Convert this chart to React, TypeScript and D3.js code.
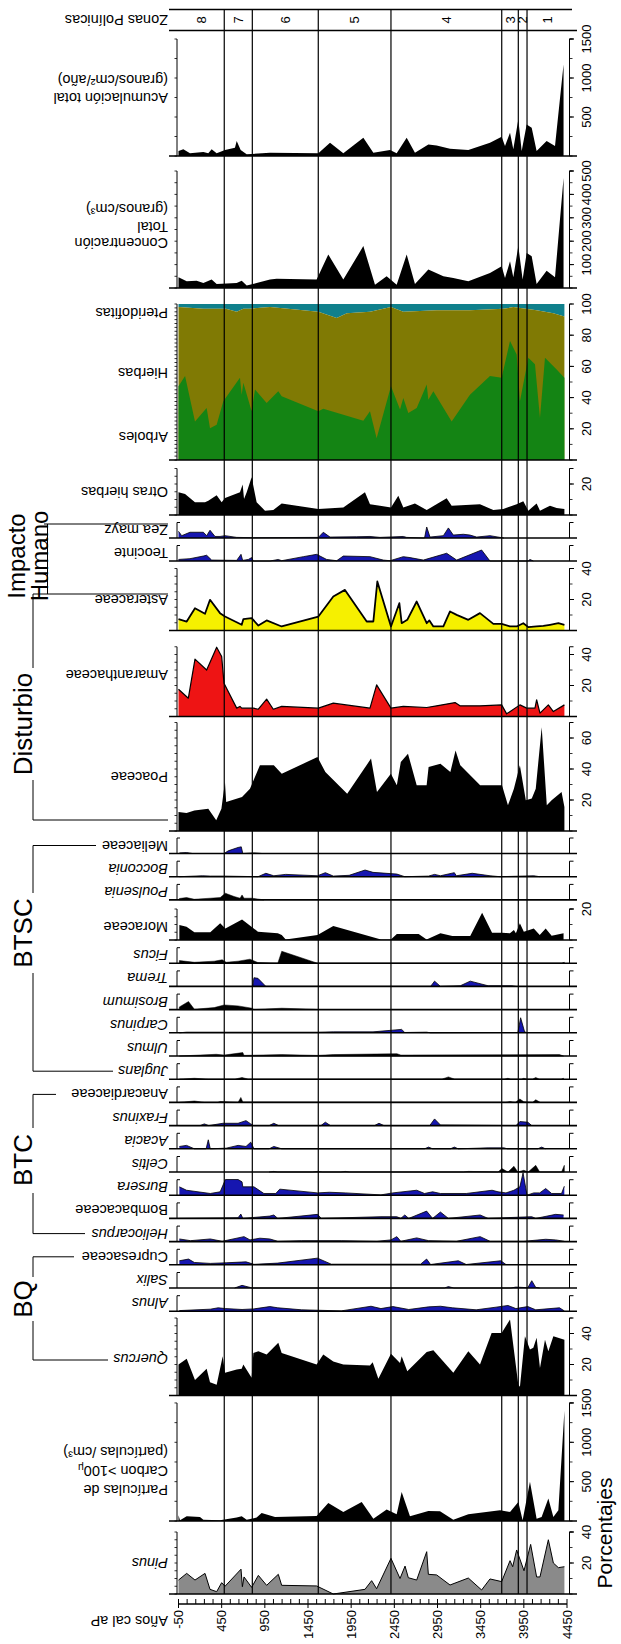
import React from 'react';
import * as d3 from 'd3';

type Pt = [number, number];

// ------------------------------------------------------------------ data
const AGE_TICKS = [-50, 450, 950, 1450, 1950, 2450, 2950, 3450, 3950, 4450];
const ZONE_BOUNDARIES = [480, 805, 1569, 2411, 3694, 3886, 3987];
const ZONE_NAMES = ['8', '7', '6', '5', '4', '3', '2', '1'];

const ACUM_TICKS = [500, 1000, 1500];
const CONC_TICKS = [100, 200, 300, 400, 500];
const VEG_TICKS = [20, 40, 60, 80, 100];
const TICKS_20 = [20];
const TICKS_20_40 = [20, 40];
const TICKS_20_40_60 = [20, 40, 60];
const CARBON_TICKS = [500, 1000, 1500];

const ACUMULACION: Pt[] = [[-50,64],[6,85],[83,34],[238,51],[295,34],[334,85],[392,34],[489,77],[604,107],[624,192],[670,77],[740,21],[1010,43],[1570,34],[1705,170],[1859,34],[2091,234],[2207,43],[2400,77],[2477,34],[2593,234],[2689,43],[2844,149],[2940,136],[3095,94],[3307,77],[3558,170],[3693,247],[3732,128],[3790,298],[3828,85],[3886,469],[3925,64],[3983,405],[4041,362],[4098,64],[4214,192],[4311,128],[4410,1172]];
const CONCENTRACION: Pt[] = [[-50,46],[45,29],[160,31],[238,21],[334,36],[392,17],[624,21],[682,31],[740,11],[855,21],[1010,36],[1087,40],[1550,36],[1685,143],[1859,36],[2091,179],[2226,14],[2361,50],[2477,14],[2593,143],[2689,17],[2844,79],[3018,50],[3133,43],[3307,29],[3558,64],[3693,93],[3732,43],[3790,114],[3828,46],[3886,179],[3936,36],[3983,150],[4041,136],[4098,17],[4214,74],[4311,46],[4410,470]];
const ARBOLES: Pt[] = [[-50,47.3],[26,53.8],[141,24.7],[276,33.3],[315,20.4],[392,22.6],[469,37.6],[662,52.7],[682,41.9],[701,49.5],[797,31.2],[836,45.2],[971,36.6],[1106,44.1],[1145,40.9],[1570,31.2],[1627,32.9],[2091,25.2],[2168,31.2],[2245,14],[2411,47.3],[2516,32.3],[2554,39.8],[2612,30.1],[2709,33.3],[2825,48.4],[2844,38.7],[2902,44.1],[3114,24.7],[3326,41.9],[3558,53.8],[3693,52.7],[3790,76.3],[3867,67.7],[3905,37.6],[4002,65.6],[4079,61.3],[4137,26.9],[4195,65.6],[4330,58],[4420,52.7]];
const PTERIDOFITAS: Pt[] = [[-50,2],[238,3],[500,3],[624,5],[700,3],[778,3],[1010,2],[1570,5],[1782,9],[1900,6],[2168,5],[2411,2],[2554,5],[2940,4],[3326,4],[3712,3],[3828,2],[4098,4],[4292,6],[4420,8]];
const OTRAS_HIERBAS: Pt[] = [[-50,14.6],[26,13.5],[141,8.2],[257,8.2],[295,9.2],[392,12.7],[450,8.2],[489,11],[662,14.6],[693,19.6],[709,10.3],[740,14.6],[797,24.3],[855,8.2],[952,2.8],[1048,3.2],[1145,7.5],[1570,3.9],[1859,4.9],[2110,14.6],[2168,7],[2284,6],[2411,4.9],[2496,12.5],[2554,4.9],[2689,7.5],[2825,3.2],[3056,10.8],[3114,6],[3442,7],[3597,3.2],[3712,3.9],[3867,7],[3944,8.8],[4002,2.8],[4098,7.5],[4137,2.8],[4253,6],[4330,4.5],[4420,3.9]];
const ZEA_MAYZ: Pt[] = [[-50,4.3],[-13,1.5],[83,3.7],[238,3.7],[276,1.5],[315,5],[373,1],[431,1],[489,1.5],[624,0.4],[817,0.2],[1570,0.4],[1627,3.7],[1705,0.6],[2014,0.8],[2168,1],[2284,0.4],[2554,1],[2593,0.4],[2800,0],[2825,7.1],[2863,0.6],[3018,1.5],[3076,6.5],[3133,1.9],[3249,2.4],[3326,1.9],[3404,0.6],[3558,1.5],[3674,0.4],[3720,0]];
const TEOCINTE: Pt[] = [[-50,1],[83,1.5],[238,3.2],[276,3.7],[334,0.6],[624,0.4],[674,4.3],[693,0.4],[759,1],[797,2.2],[817,0],[1010,0],[1106,1],[1145,0.2],[1396,2.8],[1550,4.3],[1666,1],[1782,0.2],[1859,3.2],[2168,2.8],[2322,0.6],[2400,0.2],[2554,2.8],[2631,2.2],[2786,0.6],[3056,5],[3172,0.6],[3461,7.1],[3558,0],[4000,0],[4021,1],[4060,0]];
const ASTERACEAE: Pt[] = [[-50,7.3],[45,5.8],[141,14.4],[257,10.8],[315,19.8],[431,11.2],[489,9],[682,3.7],[701,7.3],[797,8],[875,3.2],[971,6.5],[1145,2.6],[1570,9],[1743,21.9],[1878,26.2],[2130,5.8],[2207,5.8],[2253,31.6],[2411,2.6],[2508,17.6],[2535,4.7],[2600,6.9],[2709,18.7],[2825,4.7],[2856,6.5],[2902,2.6],[3018,2.6],[3095,12.3],[3172,10.1],[3307,6.9],[3442,11.2],[3597,4.3],[3693,4.3],[3790,2.6],[3867,2.6],[3944,4.7],[4002,2.2],[4098,2.6],[4176,3],[4253,3.7],[4350,4.7],[4420,3.7]];
const AMARANTHACEAE: Pt[] = [[-50,17.6],[64,11.8],[141,37],[276,30],[392,44.7],[450,38.7],[477,21.5],[624,5.4],[662,6.5],[682,5.4],[817,5.4],[875,4.7],[971,11.2],[1048,4.7],[1145,6.5],[1570,5.4],[1743,8.6],[2168,5.4],[2245,20.4],[2411,5.4],[2554,6.5],[2825,5.8],[2940,6.9],[3153,9],[3210,6.9],[3442,6.9],[3693,7.5],[3751,1.7],[3905,7.5],[3983,5.4],[4079,5.4],[4098,10.8],[4137,2.2],[4234,7.5],[4292,3.2],[4420,7.5]];
const POACEAE: Pt[] = [[-50,12.3],[43,11.6],[134,13.3],[295,14.4],[387,6.9],[447,14.4],[488,31.6],[502,18.7],[686,21.9],[778,27.3],[893,42.4],[1054,42.4],[1146,37],[1560,47.7],[1651,38],[1904,24.1],[2180,46.7],[2249,25.2],[2410,37],[2479,29.5],[2525,44.5],[2608,49.9],[2709,29.5],[2824,29.5],[2847,41.3],[2984,43.4],[3099,38],[3159,52],[3214,42.4],[3444,29.5],[3697,29.5],[3766,16.6],[3835,27.3],[3904,42.4],[3973,19.8],[4042,20.9],[4088,27.3],[4157,67],[4216,16.6],[4272,19.8],[4387,25.2],[4420,15.5]];
const MELIACEAE: Pt[] = [[-40,0.4],[43,0.6],[111,0],[479,0],[525,1.7],[640,3.9],[677,4.3],[695,0],[824,0.4],[916,0]];
const BOCCONIA: Pt[] = [[-40,0],[226,0.6],[318,0.4],[479,0.4],[870,0],[962,2.2],[1054,0.6],[1192,1.5],[1560,0.6],[1651,2.6],[1743,0.4],[1927,0.9],[2111,4.3],[2203,2.8],[2479,1.7],[2571,0],[2847,0.4],[2916,1.5],[2984,0.6],[3145,2.6],[3168,0.6],[3352,2.2],[3559,0.6],[3674,0],[4065,0.6],[4134,0]];
const POULSENIA: Pt[] = [[-40,0.9],[43,1.5],[134,0.4],[318,1.1],[433,1.5],[493,4.3],[594,2.2],[663,1.1],[686,3.2],[709,1.1],[801,1.1],[939,0]];
const MORACEAE: Pt[] = [[-40,9.7],[43,8.6],[134,5],[318,5],[433,10.8],[493,7.5],[686,13.3],[870,5.4],[1100,4.3],[1146,3.2],[1192,0.4],[1560,3.2],[1743,9],[2295,0.4],[2410,0.4],[2479,3.9],[2732,3.9],[2824,0.4],[2984,4.3],[3122,2.6],[3329,2.6],[3467,17.6],[3582,4.7],[3697,4.7],[3789,4.3],[3835,6.5],[3858,4.3],[3904,10.8],[3950,5.4],[4065,7.5],[4134,3.2],[4203,7.5],[4272,2.8],[4410,4.3]];
const FICUS: Pt[] = [[-40,1.7],[134,0.6],[364,1.3],[456,2.2],[502,0.6],[640,1.3],[778,2.6],[870,0.4],[1100,0],[1146,7.7],[1560,0],[4387,0],[4419,0.6]];
const TREMA: Pt[] = [[810,0],[824,5.6],[870,5.2],[962,0],[2870,0],[2916,3.4],[2984,0],[3214,0.4],[3329,3.4],[3536,0.4],[3812,0.4],[3858,0]];
const BROSIMUM: Pt[] = [[-40,1.7],[66,5.2],[134,0.2],[364,1.3],[479,3],[640,2.4],[801,0.9],[824,0],[1146,0.9],[1514,0.2],[1560,0]];
const CARPINUS: Pt[] = [[-40,0],[43,0.4],[824,0.4],[1560,0.4],[1743,0.6],[2203,0.6],[2534,2.2],[2571,0.2],[2824,0.4],[2870,0],[3881,0.2],[3913,9.7],[3959,0.6],[3996,0]];
const ULMUS: Pt[] = [[-40,0],[387,1.1],[479,0.6],[695,2.2],[709,0.4],[1146,0.9],[1560,0.4],[1743,0.9],[2479,1.5],[2525,0.6],[4363,0.9],[4410,0]];
const JUGLANS: Pt[] = [[-40,0],[134,0.6],[300,0],[600,0],[686,1.1],[760,0],[3000,0],[3076,1.5],[3150,0],[3720,0],[3766,0.6],[3800,0],[3920,0],[3950,0.6],[3990,0],[4050,0],[4088,1.1],[4130,0],[4380,0],[4410,0.6]];
const ANACARDIACEAE: Pt[] = [[-40,0],[134,0.9],[250,0],[400,0],[433,0.6],[640,0],[672,3.2],[695,0.2],[3740,0],[3789,0.6],[3850,0],[3904,2.2],[3950,0.4],[4050,0],[4088,1.7],[4134,0.2]];
const FRAXINUS: Pt[] = [[-40,0],[200,0],[249,1.1],[300,0],[465,1.5],[640,1.5],[732,3.2],[787,1.1],[820,0],[1000,0],[1054,1.5],[1110,0],[1600,0],[1651,2.2],[1710,0],[2220,0],[2272,1.5],[2330,0],[2860,0],[2916,4.3],[2984,0.4],[3860,0],[3904,2.6],[3996,2.2],[4042,0]];
const ACACIA: Pt[] = [[-40,1.5],[43,2.2],[134,0],[270,0],[295,5.8],[318,0],[502,0.4],[640,2.2],[732,1.5],[787,4.3],[824,0],[1000,0],[1054,1.5],[1146,0],[2800,0],[2847,1.1],[2893,0],[3100,0],[3145,1.1],[3190,0],[3536,0.6],[3720,0.6],[3760,0],[4110,0],[4157,1.1],[4200,0]];
const CELTIS: Pt[] = [[1000,0],[1054,0.4],[1100,0],[1500,0],[1560,0.4],[1620,0],[1830,0],[1881,0.4],[1930,0],[3250,0],[3306,0.4],[3650,0],[3697,2.2],[3766,0],[3835,3.7],[3881,0],[3950,1.1],[4000,0],[4088,4.3],[4134,0],[4387,0],[4419,4.3]];
const BURSERA: Pt[] = [[-40,5.4],[43,3.2],[318,1.1],[433,2.2],[493,10.1],[640,10.1],[686,8.6],[695,5.4],[824,5.4],[939,1.1],[1077,1.1],[1123,3.9],[1560,1.5],[1697,1.9],[1881,1.5],[2295,0.2],[2433,1.5],[2709,3.2],[2800,1.1],[2893,2.2],[2984,1.1],[3283,1.1],[3582,3.2],[3651,2.2],[3743,1.5],[3835,3.2],[3904,5.4],[3941,14.4],[3987,0],[4065,1.5],[4134,1.5],[4203,4.3],[4272,1.1],[4387,1.1],[4419,5.8]];
const BOMBACACEAE: Pt[] = [[-40,0],[640,0.4],[672,2.8],[695,0],[1008,1.5],[1054,2.2],[1100,0],[1560,2.6],[1605,0],[2295,1.1],[2479,1.1],[2525,0],[2571,2.2],[2617,0],[2824,4.7],[2893,0],[2984,4.1],[3076,0],[3444,2.2],[3536,0],[4042,1.1],[4088,0],[4318,2.6],[4410,2.2]];
const HELIOCARPUS: Pt[] = [[-40,1.7],[89,0.6],[318,1.7],[456,0.2],[709,3.2],[778,1.1],[893,2.2],[1008,1.7],[1100,0.2],[1376,0.6],[1835,0.6],[2249,0.2],[2410,1.1],[2479,3.2],[2525,0.2],[2709,2.4],[2847,0.6],[3168,0.2],[3444,3.2],[3559,0.2],[3950,0.2],[4203,1.5],[4318,1.1],[4419,0.2]];
const CUPRESACEAE: Pt[] = [[-40,2.6],[66,3.7],[134,1.5],[318,0.9],[502,1.3],[732,1.9],[824,0.3],[1100,1.1],[1560,4.3],[1720,0.4],[2754,0.4],[2824,3.7],[2870,0.2],[3191,2.6],[3283,0.2],[3683,2.6],[3743,0.2],[4419,0.2]];
const SALIX: Pt[] = [[600,0],[686,1.7],[778,0.4],[800,0],[3030,0],[3076,0.9],[3140,0],[3800,0],[3858,0.6],[3996,0.2],[4042,4.7],[4088,0.4],[4134,0]];
const ALNUS: Pt[] = [[-40,0.4],[318,1.3],[410,2.2],[493,1.7],[686,1.1],[824,1.5],[1008,3],[1100,2.2],[1376,0.9],[1835,0.2],[2180,3.2],[2295,1.7],[2433,3],[2617,1.1],[2847,2.8],[2984,3.2],[3122,2.2],[3398,0.9],[3628,2.6],[3766,3.7],[3858,1.7],[3996,3],[4088,0.9],[4363,2.2],[4419,0.2]];
const QUERCUS: Pt[] = [[-50,20],[45,23.7],[141,10],[276,17.2],[315,8.6],[392,7],[462,25.4],[489,14.6],[624,16.8],[682,17.2],[701,20],[797,11.4],[817,27.5],[875,28.6],[971,26.5],[1106,34],[1145,27.5],[1550,20],[1627,26.5],[1743,22],[1859,20],[2168,19.4],[2199,21.5],[2265,10.8],[2411,27],[2516,21],[2535,25.4],[2600,15.7],[2825,28],[2902,29.2],[3133,14.6],[3307,28.6],[3442,20],[3577,40.4],[3693,40.4],[3790,49],[3886,7],[3905,5.6],[3963,38.3],[4021,29.7],[4060,30.8],[4098,37.2],[4137,17.8],[4195,36],[4234,28.6],[4292,38.3],[4420,36]];
const CARBON: Pt[] = [[-50,72],[-33,8],[45,60],[199,51],[238,17],[431,8],[624,43],[682,60],[740,17],[855,43],[913,102],[1068,51],[1550,64],[1685,230],[1859,115],[2072,243],[2207,30],[2361,145],[2477,85],[2535,370],[2631,60],[2844,128],[2979,124],[3133,17],[3307,85],[3674,136],[3790,115],[3886,243],[3936,8],[4021,500],[4098,30],[4156,51],[4234,285],[4292,51],[4350,136],[4420,1400]];
const PINUS: Pt[] = [[-50,9],[45,13.3],[141,9],[257,13.3],[315,3],[392,1.5],[450,7.3],[489,5],[674,16],[690,4.7],[709,11],[797,4.3],[875,12],[971,5.6],[1106,12.7],[1145,5.6],[1550,5.2],[1743,0],[2110,3],[2187,8.6],[2245,3.4],[2411,23],[2516,10],[2574,18],[2612,10.5],[2709,9],[2825,27.3],[2844,12.7],[2940,12.3],[3095,5.8],[3307,10.3],[3461,2.6],[3558,9.7],[3693,8],[3790,21.5],[3821,17.6],[3867,28.4],[3952,15],[4029,32],[4098,11],[4137,11],[4234,35],[4292,20],[4350,17],[4420,17.6]];

// ------------------------------------------------------------------ layout / style
const FONT = "'Liberation Sans', Arial, Helvetica, sans-serif";
const BLUE = '#1616b0';
const PCT = 1.55;
const LINE_L = 169;
const LINE_R = 577;
const AX_L = 177;
const AX_R = 569.5;
const LABEL_X = 168;
const TICKLABEL_X = 586;
const SMALL_H = 15.5;

interface BigPanel {
  id: string; data: Pt[]; base: number; max: number; k: number;
  fill: string; outline?: number; ticks: number[]; rMinor: number; lMinor: number;
  labels: [string, number][]; italic?: boolean; sub?: boolean;
}

const BIG: BigPanel[] = [
  { id: 'acum', data: ACUMULACION, base: 156, max: 1500, k: 0.078, fill: '#000', ticks: ACUM_TICKS, rMinor: 250, lMinor: 250,
    labels: [['Acumulación total', 98], ['(granos/cm²/año)', 80]] },
  { id: 'conc', data: CONCENTRACION, base: 288, max: 500, k: 0.234, fill: '#000', ticks: CONC_TICKS, rMinor: 50, lMinor: 50,
    labels: [['Concentración', 243], ['Total', 227], ['(granos/cm³)', 209]] },
  { id: 'otras', data: OTRAS_HIERBAS, base: 515, max: 30, k: PCT, fill: '#000', ticks: TICKS_20, rMinor: 10, lMinor: 5,
    labels: [['Otras hierbas', 492]] },
  { id: 'aster', data: ASTERACEAE, base: 630.5, max: 40, k: PCT, fill: '#f6f000', outline: 1.8, ticks: TICKS_20_40, rMinor: 10, lMinor: 5,
    labels: [['Asteraceae', 600]] },
  { id: 'amar', data: AMARANTHACEAE, base: 716.5, max: 45, k: PCT, fill: '#ee1414', outline: 1.2, ticks: TICKS_20_40, rMinor: 10, lMinor: 5,
    labels: [['Amaranthaceae', 675]] },
  { id: 'poa', data: POACEAE, base: 831, max: 70, k: PCT, fill: '#000', ticks: TICKS_20_40_60, rMinor: 10, lMinor: 5,
    labels: [['Poaceae', 777]] },
  { id: 'mora', data: MORACEAE, base: 940, max: 20, k: PCT, fill: '#000', ticks: TICKS_20, rMinor: 10, lMinor: 5,
    labels: [['Moraceae', 927]] },
  { id: 'querc', data: QUERCUS, base: 1395.5, max: 50, k: PCT, fill: '#000', ticks: TICKS_20_40, rMinor: 10, lMinor: 5,
    labels: [['Quercus', 1359]], italic: true },
  { id: 'carbon', data: CARBON, base: 1521, max: 1500, k: 0.0787, fill: '#000', ticks: CARBON_TICKS, rMinor: 250, lMinor: 250,
    labels: [['Partículas de', 1490], ['Carbon  >100', 1471], ['(partículas /cm³)', 1452]], sub: true },
  { id: 'pinus', data: PINUS, base: 1594, max: 40, k: PCT, fill: '#8a8a8a', outline: 1, ticks: TICKS_20_40, rMinor: 10, lMinor: 5,
    labels: [['Pinus', 1563]], italic: true },
];

interface SmallPanel { name: string; data: Pt[]; base: number; blue: boolean; italic: boolean; }
const SMALL: SmallPanel[] = [
  { name: 'Zea mayz', data: ZEA_MAYZ, base: 538, blue: true, italic: false },
  { name: 'Teocinte', data: TEOCINTE, base: 561, blue: true, italic: false },
  { name: 'Meliaceae', data: MELIACEAE, base: 853.5, blue: true, italic: false },
  { name: 'Bocconia', data: BOCCONIA, base: 876.7, blue: true, italic: true },
  { name: 'Poulsenia', data: POULSENIA, base: 899.9, blue: false, italic: true },
  { name: 'Ficus', data: FICUS, base: 963.2, blue: false, italic: true },
  { name: 'Trema', data: TREMA, base: 986.4, blue: true, italic: true },
  { name: 'Brosimum', data: BROSIMUM, base: 1009.6, blue: false, italic: true },
  { name: 'Carpinus', data: CARPINUS, base: 1032.8, blue: true, italic: true },
  { name: 'Ulmus', data: ULMUS, base: 1056, blue: false, italic: true },
  { name: 'Juglans', data: JUGLANS, base: 1079.2, blue: false, italic: true },
  { name: 'Anacardiaceae', data: ANACARDIACEAE, base: 1102.4, blue: false, italic: false },
  { name: 'Fraxinus', data: FRAXINUS, base: 1125.6, blue: true, italic: true },
  { name: 'Acacia', data: ACACIA, base: 1148.8, blue: true, italic: true },
  { name: 'Celtis', data: CELTIS, base: 1172, blue: false, italic: true },
  { name: 'Bursera', data: BURSERA, base: 1195.2, blue: true, italic: true },
  { name: 'Bombacaceae', data: BOMBACACEAE, base: 1218.4, blue: true, italic: false },
  { name: 'Heliocarpus', data: HELIOCARPUS, base: 1241.6, blue: true, italic: true },
  { name: 'Cupresaceae', data: CUPRESACEAE, base: 1264.8, blue: true, italic: false },
  { name: 'Salix', data: SALIX, base: 1288, blue: true, italic: true },
  { name: 'Alnus', data: ALNUS, base: 1311.2, blue: true, italic: true },
];

const VEG = { base: 460, max: 100, k: 1.56 };

const L = (p: { x1: number; y1: number; x2: number; y2: number; w?: number; k?: string }) => (
  <line key={p.k} x1={p.x1} y1={p.y1} x2={p.x2} y2={p.y2} stroke="#000" strokeWidth={p.w ?? 1} />
);

function UpsideDown({ x, y, text, italic, size = 14.5, sub }: { x: number; y: number; text: string; italic?: boolean; size?: number; sub?: boolean }) {
  return (
    <text transform={`translate(${x},${y}) rotate(180)`} textAnchor="start" dominantBaseline="central"
      fontSize={size} fontStyle={italic ? 'italic' : 'normal'} fill="#000">
      {text}
      {sub ? <tspan fontSize={10} dy={3}>μ</tspan> : null}
    </text>
  );
}

function Vert({ x, y, text, size = 13, anchor = 'middle', baseline = 'central' }: { x: number; y: number; text: string; size?: number; anchor?: string; baseline?: string }) {
  return (
    <text transform={`translate(${x},${y}) rotate(-90)`} textAnchor={anchor as any} dominantBaseline={baseline as any} fontSize={size} fill="#000">
      {text}
    </text>
  );
}

export default function App() {
  const x = d3.scaleLinear().domain([-50, 4450]).range([178.5, 567]);

  const els: React.ReactNode[] = [];

  // ---------- big panels
  BIG.forEach((p) => {
    const y = d3.scaleLinear().domain([0, p.max]).range([p.base, p.base - p.max * p.k]);
    const area = d3.area<Pt>().x((d) => x(d[0])).y0(p.base).y1((d) => y(d[1]));
    const line = d3.line<Pt>().x((d) => x(d[0])).y((d) => y(d[1]));
    els.push(<path key={p.id + 'a'} d={area(p.data) || ''} fill={p.fill} stroke="none" />);
    if (p.outline) els.push(<path key={p.id + 'l'} d={line(p.data) || ''} fill="none" stroke="#000" strokeWidth={p.outline} strokeLinejoin="round" />);
    const top = y(p.max);
    els.push(L({ k: p.id + 'bl', x1: LINE_L, x2: LINE_R, y1: p.base, y2: p.base, w: 1.6 }));
    els.push(L({ k: p.id + 'la', x1: AX_L, x2: AX_L, y1: top, y2: p.base }));
    for (let v = 0; v <= p.max + 1e-6; v += p.lMinor) els.push(L({ k: p.id + 'lt' + v, x1: AX_L - 2.5, x2: AX_L, y1: y(v), y2: y(v), w: 0.8 }));
    els.push(L({ k: p.id + 'ra', x1: AX_R, x2: AX_R, y1: top, y2: p.base }));
    for (let v = 0; v <= p.max + 1e-6; v += p.rMinor) els.push(L({ k: p.id + 'rt' + v, x1: AX_R, x2: AX_R + 3, y1: y(v), y2: y(v), w: 0.8 }));
    els.push(L({ k: p.id + 'rtop', x1: AX_R, x2: AX_R + 4, y1: top, y2: top }));
    p.ticks.forEach((t) => {
      els.push(L({ k: p.id + 'mt' + t, x1: AX_R, x2: AX_R + 4.5, y1: y(t), y2: y(t) }));
      els.push(<Vert key={p.id + 'tl' + t} x={TICKLABEL_X} y={y(t)} text={String(t)} />);
    });
    p.labels.forEach(([t, ly], i) => {
      els.push(<UpsideDown key={p.id + 'lab' + i} x={LABEL_X} y={ly} text={t} italic={p.italic} sub={p.sub && i === 1} />);
    });
  });

  // ---------- vegetation stacked panel
  {
    const y = d3.scaleLinear().domain([0, VEG.max]).range([VEG.base, VEG.base - VEG.max * VEG.k]);
    const teal = d3.area<Pt>().x((d) => x(d[0])).y0((d) => y(100 - d[1])).y1(y(100));
    const olive = d3.area<Pt>().x((d) => x(d[0])).y0(VEG.base).y1((d) => y(100 - d[1]));
    const green = d3.area<Pt>().x((d) => x(d[0])).y0(VEG.base).y1((d) => y(d[1]));
    els.push(<path key="vegT" d={teal(PTERIDOFITAS) || ''} fill="#0f808c" />);
    els.push(<path key="vegO" d={olive(PTERIDOFITAS) || ''} fill="#807a04" />);
    els.push(<path key="vegG" d={green(ARBOLES) || ''} fill="#148414" />);
    const top = y(100);
    els.push(L({ k: 'vegbl', x1: LINE_L, x2: LINE_R, y1: VEG.base, y2: VEG.base, w: 1.6 }));
    els.push(L({ k: 'vegla', x1: AX_L, x2: AX_L, y1: top, y2: VEG.base }));
    for (let v = 0; v <= 100; v += 2.5) els.push(L({ k: 'veglt' + v, x1: AX_L - 2.5, x2: AX_L, y1: y(v), y2: y(v), w: 0.8 }));
    els.push(L({ k: 'vegra', x1: AX_R, x2: AX_R, y1: top, y2: VEG.base }));
    for (let v = 0; v <= 100; v += 10) els.push(L({ k: 'vegrt' + v, x1: AX_R, x2: AX_R + 3, y1: y(v), y2: y(v), w: 0.8 }));
    VEG_TICKS.forEach((t) => {
      els.push(L({ k: 'vegmt' + t, x1: AX_R, x2: AX_R + 4.5, y1: y(t), y2: y(t) }));
      els.push(<Vert key={'vegtl' + t} x={TICKLABEL_X} y={y(t)} text={String(t)} />);
    });
    els.push(<UpsideDown key="vlab1" x={LABEL_X} y={313} text="Pteridofitas" />);
    els.push(<UpsideDown key="vlab2" x={LABEL_X} y={373} text="Hierbas" />);
    els.push(<UpsideDown key="vlab3" x={LABEL_X} y={437} text="Arboles" />);
  }

  // ---------- small panels
  SMALL.forEach((p) => {
    const y = d3.scaleLinear().domain([0, 10]).range([p.base, p.base - SMALL_H]);
    const area = d3.area<Pt>().x((d) => x(d[0])).y0(p.base).y1((d) => y(d[1]));
    const line = d3.line<Pt>().x((d) => x(d[0])).y((d) => y(d[1]));
    if (p.blue) {
      els.push(<path key={p.name + 'a'} d={area(p.data) || ''} fill={BLUE} />);
      els.push(<path key={p.name + 'l'} d={line(p.data) || ''} fill="none" stroke="#000" strokeWidth={0.8} />);
    } else {
      els.push(<path key={p.name + 'a'} d={area(p.data) || ''} fill="#000" stroke="#000" strokeWidth={0.5} />);
    }
    const top = p.base - SMALL_H;
    els.push(L({ k: p.name + 'bl', x1: LINE_L, x2: LINE_R, y1: p.base, y2: p.base, w: 1.6 }));
    els.push(L({ k: p.name + 'la', x1: AX_L, x2: AX_L, y1: top, y2: p.base }));
    els.push(L({ k: p.name + 'lt', x1: AX_L, x2: AX_L + 3, y1: top, y2: top }));
    els.push(L({ k: p.name + 'ra', x1: AX_R, x2: AX_R, y1: top, y2: p.base }));
    els.push(L({ k: p.name + 'rt', x1: AX_R, x2: AX_R + 4, y1: top, y2: top }));
    els.push(<UpsideDown key={p.name + 'lab'} x={LABEL_X} y={p.base - 8} text={p.name} italic={p.italic} />);
  });

  // ---------- zone header + lines
  const zoneEdges = [-50, ...ZONE_BOUNDARIES, 4450];
  els.push(L({ k: 'zh1', x1: LINE_L, x2: LINE_R - 5, y1: 9.5, y2: 9.5, w: 1.3 }));
  els.push(L({ k: 'zh2', x1: LINE_L, x2: LINE_R, y1: 30.5, y2: 30.5, w: 1.3 }));
  ZONE_BOUNDARIES.forEach((b, i) => {
    els.push(L({ k: 'zl' + i, x1: x(b), x2: x(b), y1: 9.5, y2: 1594, w: 1.2 }));
  });
  ZONE_NAMES.forEach((n, i) => {
    const cx = (x(zoneEdges[i]) + x(zoneEdges[i + 1])) / 2;
    els.push(<Vert key={'zn' + n} x={cx} y={20} text={n} size={13} />);
  });
  els.push(<UpsideDown key="zlab" x={LABEL_X} y={20} text="Zonas Polínicas" />);

  // ---------- age axis
  const AXY = 1604;
  els.push(L({ k: 'axl', x1: x(-50), x2: x(4450), y1: AXY, y2: AXY, w: 1.3 }));
  for (let a = -50; a <= 4450; a += 100) {
    const major = AGE_TICKS.includes(a);
    els.push(L({ k: 'at' + a, x1: x(a), x2: x(a), y1: AXY - 5, y2: major ? AXY + 4 : AXY, w: 1 }));
  }
  AGE_TICKS.forEach((a) => {
    els.push(<Vert key={'al' + a} x={x(a)} y={AXY + 6} text={String(a)} anchor="end" />);
  });
  els.push(<UpsideDown key="agelab" x={LABEL_X} y={1621} text="Años cal aP" />);
  els.push(<Vert key="porc" x={604} y={1533} text="Porcentajes" size={21} />);

  // ---------- groups
  const G = 26;
  const grp = (key: string, text: string, cx: number, cy: number, size = G) => (
    <text key={key} transform={`translate(${cx},${cy}) rotate(-90)`} textAnchor="middle" fontSize={size} fill="#000">{text}</text>
  );
  const BX = 33;
  // BQ
  els.push(grp('gBQ', 'BQ', 32, 1299));
  els.push(L({ k: 'bq1', x1: BX, x2: 74, y1: 1256.8, y2: 1256.8 }));
  els.push(L({ k: 'bq2', x1: BX, x2: BX, y1: 1256.8, y2: 1277 }));
  els.push(L({ k: 'bq3', x1: BX, x2: BX, y1: 1321, y2: 1360 }));
  els.push(L({ k: 'bq4', x1: BX, x2: 108, y1: 1360, y2: 1360 }));
  // BTC
  els.push(grp('gBTC', 'BTC', 32, 1160));
  els.push(L({ k: 'btc1', x1: BX, x2: 56, y1: 1094.4, y2: 1094.4 }));
  els.push(L({ k: 'btc2', x1: BX, x2: BX, y1: 1094.4, y2: 1128 }));
  els.push(L({ k: 'btc3', x1: BX, x2: BX, y1: 1193, y2: 1233.6 }));
  els.push(L({ k: 'btc4', x1: BX, x2: 85, y1: 1233.6, y2: 1233.6 }));
  // BTSC
  els.push(grp('gBTSC', 'BTSC', 32, 933));
  els.push(L({ k: 'bs1', x1: BX, x2: 96, y1: 845.5, y2: 845.5 }));
  els.push(L({ k: 'bs2', x1: BX, x2: BX, y1: 845.5, y2: 893 }));
  els.push(L({ k: 'bs3', x1: BX, x2: BX, y1: 973, y2: 1071.2 }));
  els.push(L({ k: 'bs4', x1: BX, x2: 113, y1: 1071.2, y2: 1071.2 }));
  // Disturbio
  els.push(grp('gDist', 'Disturbio', 32, 724));
  els.push(L({ k: 'd1', x1: BX, x2: LABEL_X, y1: 594, y2: 594 }));
  els.push(L({ k: 'd2', x1: BX, x2: BX, y1: 594, y2: 668 }));
  els.push(L({ k: 'd3', x1: BX, x2: BX, y1: 780, y2: 820 }));
  els.push(L({ k: 'd4', x1: BX, x2: LABEL_X, y1: 820, y2: 820 }));
  // Impacto Humano
  els.push(grp('gImp', 'Impacto', 25, 556, 24));
  els.push(grp('gHum', 'Humano', 48, 556, 24));
  els.push(L({ k: 'h1', x1: 44, x2: LABEL_X, y1: 524, y2: 524 }));
  els.push(L({ k: 'h2', x1: 47.5, x2: 47.5, y1: 524, y2: 594 }));

  return (
    <svg width={621} height={1644} viewBox="0 0 621 1644" style={{ position: 'absolute', left: 0, top: 0, background: '#fff' }} fontFamily={FONT}>
      <rect x={0} y={0} width={621} height={1644} fill="#fff" />
      {els}
    </svg>
  );
}
